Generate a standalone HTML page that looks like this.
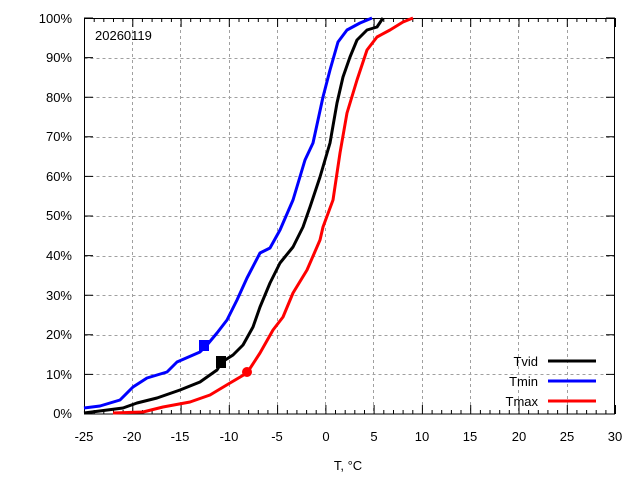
<!DOCTYPE html>
<html><head><style>body{margin:0;background:#fff}svg{display:block}text{font-family:"Liberation Sans",sans-serif;font-size:13px;fill:#000}</style></head><body>
<svg width="640" height="480" viewBox="0 0 640 480" xmlns="http://www.w3.org/2000/svg">
<g stroke="#a0a0a0" stroke-dasharray="3,3" stroke-width="1">
<path d="M84.5,374.5H615M84.5,335.5H615M84.5,295.5H615M84.5,256.5H615M84.5,216.5H615M84.5,176.5H615M84.5,137.5H615M84.5,97.5H615M84.5,58.5H615"/>
<path d="M132.5,18V414M180.5,18V414M229.5,18V414M277.5,18V414M325.5,18V414M373.5,18V414M422.5,18V414M470.5,18V414M518.5,18V414M567.5,18V414"/>
</g>
<g id="ticks" stroke="#000" stroke-width="1"></g>
<rect x="84.5" y="18.5" width="530" height="395.5" fill="none" stroke="#000"/>
<g text-anchor="end">
<text x="72" y="418">0%</text><text x="72" y="379">10%</text><text x="72" y="339">20%</text><text x="72" y="300">30%</text><text x="72" y="260">40%</text><text x="72" y="220">50%</text><text x="72" y="181">60%</text><text x="72" y="141">70%</text><text x="72" y="102">80%</text><text x="72" y="62">90%</text><text x="72" y="23">100%</text>
</g>
<g text-anchor="middle">
<text x="84" y="441">-25</text><text x="132" y="441">-20</text><text x="180" y="441">-15</text><text x="229" y="441">-10</text><text x="277" y="441">-5</text><text x="326" y="441">0</text><text x="374" y="441">5</text><text x="422" y="441">10</text><text x="470" y="441">15</text><text x="519" y="441">20</text><text x="567" y="441">25</text><text x="615" y="441">30</text>
<text x="348" y="470">T, °C</text>
</g>
<text x="95" y="40">20260119</text>
<g fill="none" stroke-width="3" stroke-linejoin="round">
<polyline stroke="#0000ff" points="84,408 100,406 120,400 133,387 147,378 167,372 177,362 200,352 207,345 217,333 227,320 237,300 247,278 260,253 270,248 280,230 293,200 305,160 313,143 323,97 330,70 338,42 347,30 360,23 372,18"/>
<polyline stroke="#000" points="84,413 123,408 137,403 157,398 180,390 200,382 217,370 222,362 233,355 243,345 253,327 260,307 270,283 280,263 293,247 303,227 310,207 320,177 330,143 337,103 343,77 350,57 357,40 367,30 377,27 383,18"/>
<polyline stroke="#ff0000" points="113,413 143,412 163,407 190,402 210,395 230,383 247,373 260,353 273,330 283,317 293,293 307,270 320,240 323,227 333,200 340,153 347,113 357,80 367,50 377,37 390,30 403,22 413,18"/>
</g>
<rect x="199" y="340" width="10" height="11" fill="#0000ff"/>
<rect x="216" y="356" width="10" height="12" fill="#000"/>
<circle cx="247" cy="372" r="5" fill="#ff0000"/>
<g text-anchor="end"><text x="538" y="366">Tvid</text><text x="538" y="386">Tmin</text><text x="538" y="406">Tmax</text></g>
<g stroke-width="3"><path d="M548,361H596" stroke="#000"/><path d="M548,381H596" stroke="#0000ff"/><path d="M548,401H596" stroke="#ff0000"/></g>
<script>
(function(){var g=document.getElementById('ticks'),d='';
for(var i=0;i<=55;i++){var x=84.5+i*9.655;var L=(i%5==0)?9:4;d+='M'+x.toFixed(1)+',414v-'+L+'M'+x.toFixed(1)+',18v'+L;}
for(var j=0;j<=10;j++){var y=414-j*39.6;d+='M84,'+y.toFixed(1)+'h9M615,'+y.toFixed(1)+'h-9';}
var p=document.createElementNS('http://www.w3.org/2000/svg','path');p.setAttribute('d',d);g.appendChild(p);})();
</script>
</svg>
</body></html>
